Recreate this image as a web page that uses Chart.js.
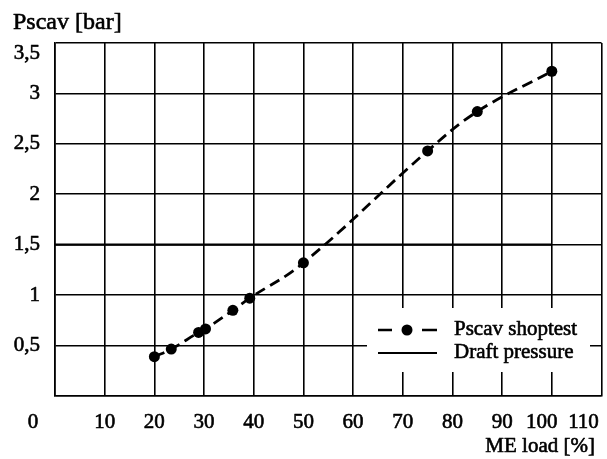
<!DOCTYPE html>
<html><head><meta charset="utf-8">
<script src="https://cdn.jsdelivr.net/npm/chart.js@4/dist/chart.umd.min.js"></script>
<style>html,body{margin:0;padding:0;background:#fff}#w{width:607px;height:459px}</style>
</head><body><div id="w"><canvas id="c"></canvas></div>
<script>
const loadPct = [20, 23.4, 28.9, 30.3, 35.8, 39.2, 50, 75, 85, 100];
const pscav = [0.39, 0.465, 0.63, 0.665, 0.85, 0.97, 1.32, 2.43, 2.82, 3.22];
const draftX = [0, 100];
const draftY = [1.5, 1.5];
const xTickLabels = ['0','10','20','30','40','50','60','70','80','90','100','110'];
const yTickLabels = ['0','0,5','1','1,5','2','2,5','3','3,5'];
const seriesNames = ['Pscav shoptest', 'Draft pressure'];
const yTitle = 'Pscav [bar]';
const xTitle = 'ME load [%]';

const FONT = '21px "Liberation Serif"';
const xShift = {0: -22, 100: -10, 110: -18};

function txt(ctx, s, x, y) {
  ctx.strokeText(s, x, y);
  ctx.fillText(s, x, y);
}

const labelPlugin = {
  id: 'labels',
  afterDraw(chart) {
    const ctx = chart.ctx, xs = chart.scales.x, ys = chart.scales.y, ca = chart.chartArea;
    ctx.save();
    ctx.fillStyle = '#000';
    ctx.strokeStyle = '#000';
    ctx.lineWidth = 0.6;
    ctx.lineJoin = 'round';
    ctx.font = FONT;
    // y labels
    ctx.textAlign = 'right'; ctx.textBaseline = 'middle';
    yTickLabels.forEach((t, i) => {
      if (i === 0) return;
      const v = i * 0.5;
      let py = Math.max(ys.getPixelForValue(v), ca.top + 10);
      txt(ctx, t, 40, py);
    });
    // x labels
    ctx.textAlign = 'center';
    xTickLabels.forEach((t, i) => {
      const v = i * 10;
      const px = xs.getPixelForValue(v) + (xShift[v] || 0);
      txt(ctx, t, px, ca.bottom + 26);
    });
    // titles
    ctx.textAlign = 'left'; ctx.textBaseline = 'alphabetic';
    ctx.font = '24px "Liberation Serif"';
    txt(ctx, yTitle, 13, 29);
    ctx.font = FONT;
    ctx.textAlign = 'right';
    txt(ctx, xTitle, 595, 452);
    // legend
    const lx = 367, ly = 308, lw = 223, lh = 64;
    ctx.fillStyle = '#fff';
    ctx.fillRect(lx, ly, lw, lh);
    ctx.fillStyle = '#000';
    ctx.lineWidth = 2.5;
    ctx.beginPath(); ctx.moveTo(378, 330); ctx.lineTo(392, 330); ctx.moveTo(422, 330); ctx.lineTo(437, 330); ctx.stroke();
    ctx.beginPath(); ctx.arc(407, 330, 5.5, 0, Math.PI * 2); ctx.fill();
    ctx.lineWidth = 2;
    ctx.beginPath(); ctx.moveTo(378, 353); ctx.lineTo(437, 353); ctx.stroke();
    ctx.lineWidth = 0.6;
    ctx.textAlign = 'left'; ctx.textBaseline = 'middle';
    txt(ctx, seriesNames[0], 454, 329);
    txt(ctx, seriesNames[1], 454, 352);
    ctx.restore();
  }
};

new Chart(document.getElementById('c'), {
  type: 'scatter',
  data: {
    datasets: [
      {
        label: seriesNames[0],
        data: loadPct.map((x, i) => ({x, y: pscav[i]})),
        showLine: true,
        borderColor: '#000',
        borderWidth: 2.8,
        borderDash: [11, 6],
        tension: 0.4,
        pointRadius: 5.5,
        pointBackgroundColor: '#000',
        pointBorderColor: '#000',
        pointBorderWidth: 0,
        order: 1
      },
      {
        label: seriesNames[1],
        data: draftX.map((x, i) => ({x, y: draftY[i]})),
        showLine: true,
        borderColor: '#000',
        borderWidth: 2.2,
        pointRadius: 0,
        order: 2
      }
    ]
  },
  options: {
    responsive: true,
    maintainAspectRatio: false,
    animation: false,
    layout: {padding: {top: 43, right: 4, left: 0, bottom: 0}},
    plugins: {legend: {display: false}, tooltip: {enabled: false}},
    scales: {
      x: {
        type: 'linear', min: 0, max: 110,
        ticks: {stepSize: 10, display: false},
        grid: {color: '#000', lineWidth: 1.6, drawTicks: false},
        border: {color: '#000', width: 1.6},
        afterFit(s) { s.height = 63; }
      },
      y: {
        type: 'linear', min: 0, max: 3.5,
        ticks: {stepSize: 0.5, display: false},
        grid: {color: '#000', lineWidth: 1.6, drawTicks: false},
        border: {color: '#000', width: 1.6},
        afterFit(s) { s.width = 55; }
      }
    }
  },
  plugins: [labelPlugin]
});
</script>
</body></html>
